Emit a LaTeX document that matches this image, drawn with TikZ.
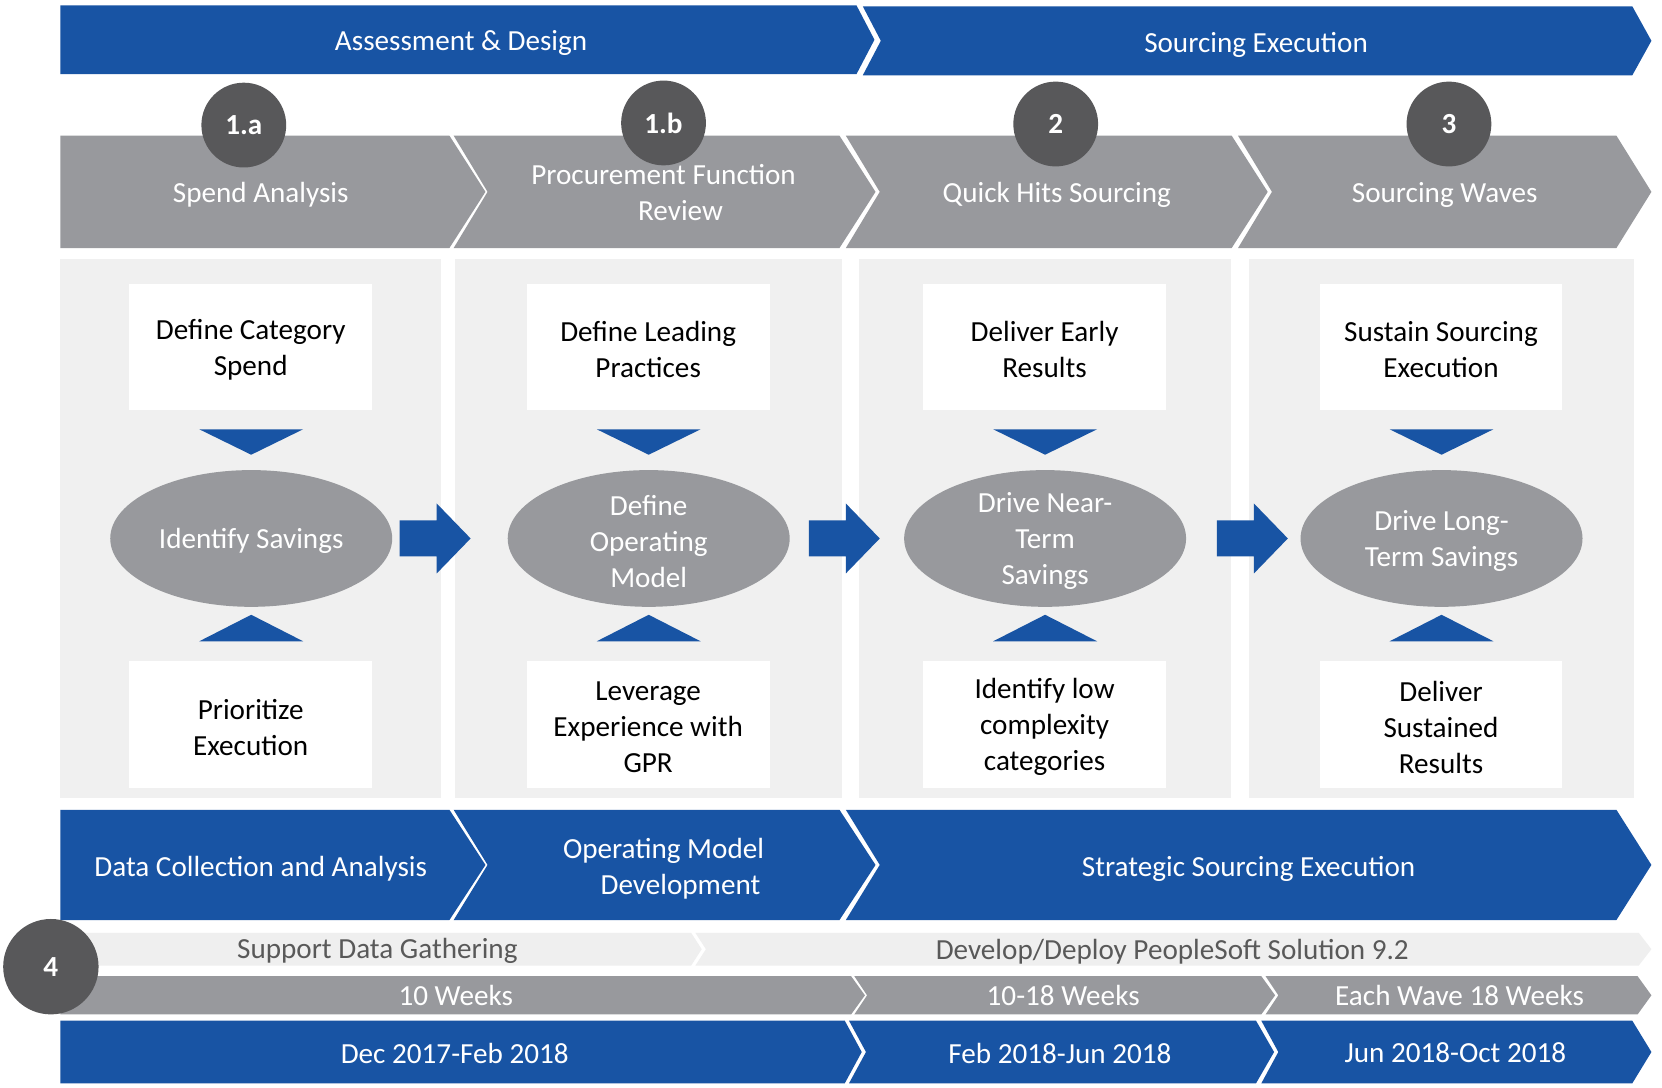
\documentclass[tikz,border=0pt]{standalone}
\usepackage{fontspec}
\setmainfont{Carlito}
\usetikzlibrary{shapes.geometric}
\definecolor{sblue}{RGB}{24,84,164}
\definecolor{sgray}{RGB}{152,153,157}
\definecolor{sdark}{RGB}{88,88,90}
\definecolor{spanel}{RGB}{240,240,240}
\definecolor{slight}{RGB}{239,239,239}
\definecolor{stext}{RGB}{89,89,89}
% #1 fill, #2 x-left, #3 x-right base, #4 ytop, #5 ybot, #6 tip depth, #7 notch depth
\newcommand{\chevshape}[7]{%
  \fill[#1] (#2,#4) -- (#3,#4) -- ({#3+#6},{(#4+#5)/2}) -- (#3,#5) -- (#2,#5) -- ({#2+#7},{(#4+#5)/2}) -- cycle;}
\newcommand{\downtri}[1]{\fill[sblue] ({#1-49},405) -- ({#1+49},405) -- (#1,429) -- cycle;}
\newcommand{\uptri}[1]{\fill[sblue] ({#1-49},605) -- ({#1+49},605) -- (#1,580) -- cycle;}
\newcommand{\blockarrow}[1]{\fill[sblue] (#1,491) -- ({#1+35},491) -- ({#1+35},475) -- ({#1+67},508) -- ({#1+35},541) -- ({#1+35},525) -- (#1,525) -- cycle;}
\begin{document}
\begin{tikzpicture}[x=1pt,y=-1pt,
  every node/.style={font=\fontsize{27.5}{34}\selectfont, align=center, inner sep=0pt},
  wtext/.style={text=white, yshift=-2.5pt},
  btext/.style={text=black, yshift=-2.5pt},
  gtext/.style={text=stext, yshift=-2.5pt},
  numcirc/.style={circle, fill=sdark, text=white, minimum size=80pt, font=\fontsize{27.5}{34}\selectfont\bfseries},
  wbox/.style={rectangle, fill=white, minimum width=229pt, minimum height=119pt},
  oval/.style={ellipse, fill=sgray, minimum width=266pt, minimum height=129pt}]
\useasboundingbox (0,0) rectangle (1568,1026);
\fill[white] (0,0) rectangle (1568,1026);

% top phase bars
\chevshape{sblue}{57}{808}{5}{70}{17}{0}
\chevshape{sblue}{814}{1540}{6}{71}{18}{17}
\node[wtext] (ad) at (435,38) {Assessment \& Design};
\node[wtext] (se) at (1185,40) {Sourcing Execution};

% gray step chevrons
\chevshape{sgray}{57}{424}{128}{234}{34}{0}
\chevshape{sgray}{428}{792}{128}{234}{34}{32}
\chevshape{sgray}{798}{1162}{128}{234}{34}{32}
\chevshape{sgray}{1168}{1525}{128}{234}{33}{32}

\node[numcirc] (c1a) at (230,118) {1.a};
\node[numcirc] (c1b) at (626,116) {1.b};
\node[numcirc] (c2) at (996,117) {2};
\node[numcirc] (c3) at (1367,117) {3};

\node[wtext] (s1) at (246,181) {Spend Analysis};
\node[wtext] (s2) at (626,179) {Procurement Function\\\hspace*{32pt}Review};
\node[wtext] (s3) at (997,181) {Quick Hits Sourcing};
\node[wtext] (s4) at (1363,181) {Sourcing Waves};

% panels
\fill[spanel] (57,244) rectangle (416,753);
\fill[spanel] (429,244) rectangle (794,753);
\fill[spanel] (810,244) rectangle (1161,753);
\fill[spanel] (1178,244) rectangle (1542,753);

% boxes
\node[wbox] (t1) at (236.5,327.5) {};
\node[wbox] (t2) at (611.5,327.5) {};
\node[wbox] (t3) at (985.5,327.5) {};
\node[wbox] (t4) at (1359.5,327.5) {};
\node[wbox] (b1) at (236.5,683.5) {};
\node[wbox] (b2) at (611.5,683.5) {};
\node[wbox] (b3) at (985.5,683.5) {};
\node[wbox] (b4) at (1359.5,683.5) {};
\node[btext] (t1x) at (t1) {Define Category\\Spend};
\node[btext] (t2x) at (t2) {Define Leading\\Practices};
\node[btext] (t3x) at (t3) {Deliver Early\\Results};
\node[btext] (t4x) at (t4) {Sustain Sourcing\\Execution};
\node[btext] (b1x) at (b1) {Prioritize\\Execution};
\node[btext] (b2x) at (b2) {Leverage\\Experience with\\GPR};
\node[btext] (b3x) at (b3) {Identify low\\complexity\\categories};
\node[btext] (b4x) at (b4) {Deliver\\Sustained\\Results};

% triangles
\downtri{237}\downtri{612}\downtri{986}\downtri{1360}
\uptri{237}\uptri{612}\uptri{986}\uptri{1360}

% ovals
\node[oval] (o1) at (237,508) {};
\node[oval] (o2) at (612,508) {};
\node[oval] (o3) at (986,508) {};
\node[oval] (o4) at (1360,508) {};
\node[wtext] (o1x) at (o1) {Identify Savings};
\node[wtext] (o2x) at (o2) {Define\\Operating\\Model};
\node[wtext] (o3x) at (o3) {Drive Near-\\Term\\Savings};
\node[wtext] (o4x) at (o4) {Drive Long-\\Term Savings};

% block arrows
\blockarrow{377}\blockarrow{763}\blockarrow{1148}

% bottom blue chevrons
\chevshape{sblue}{57}{424}{764}{868}{34}{0}
\chevshape{sblue}{428}{792}{764}{868}{34}{32}
\chevshape{sblue}{798}{1525}{764}{868}{33}{32}
\node[wtext] (p1) at (246,817) {Data Collection and Analysis};
\node[wtext] (p2) at (626,817) {Operating Model\\\hspace*{32pt}Development};
\node[wtext] (p3) at (1178,817) {Strategic Sourcing Execution};

% support row
\chevshape{slight}{57}{652}{880}{911}{10}{0}
\chevshape{slight}{656}{1546}{880}{911}{12}{10}
\node[gtext] (r1) at (356,895) {Support Data Gathering};
\node[gtext] (r2) at (1106,895) {Develop/Deploy PeopleSoft Solution 9.2};

% weeks row
\chevshape{sgray}{57}{803}{921}{957}{13}{0}
\chevshape{sgray}{806}{1190}{921}{957}{13}{12}
\chevshape{sgray}{1194}{1545}{921}{957}{13}{12}
\node[wtext] (w1) at (430,937) {10 Weeks};
\node[wtext] (w2) at (1003,937) {10-18 Weeks};
\node[wtext] (w3) at (1377,937) {Each Wave 18 Weeks};

% dates row
\chevshape{sblue}{57}{797}{963}{1022}{16}{0}
\chevshape{sblue}{801}{1185}{963}{1022}{17}{16}
\chevshape{sblue}{1190}{1540}{963}{1022}{18}{16}
\node[wtext] (d1) at (429,991) {Dec 2017-Feb 2018};
\node[wtext] (d2) at (1000,991) {Feb 2018-Jun 2018};
\node[wtext] (d3) at (1373,991) {Jun 2018-Oct 2018};

\node[numcirc, minimum size=90pt] (c4) at (48,912) {4};
\end{tikzpicture}
\end{document}
